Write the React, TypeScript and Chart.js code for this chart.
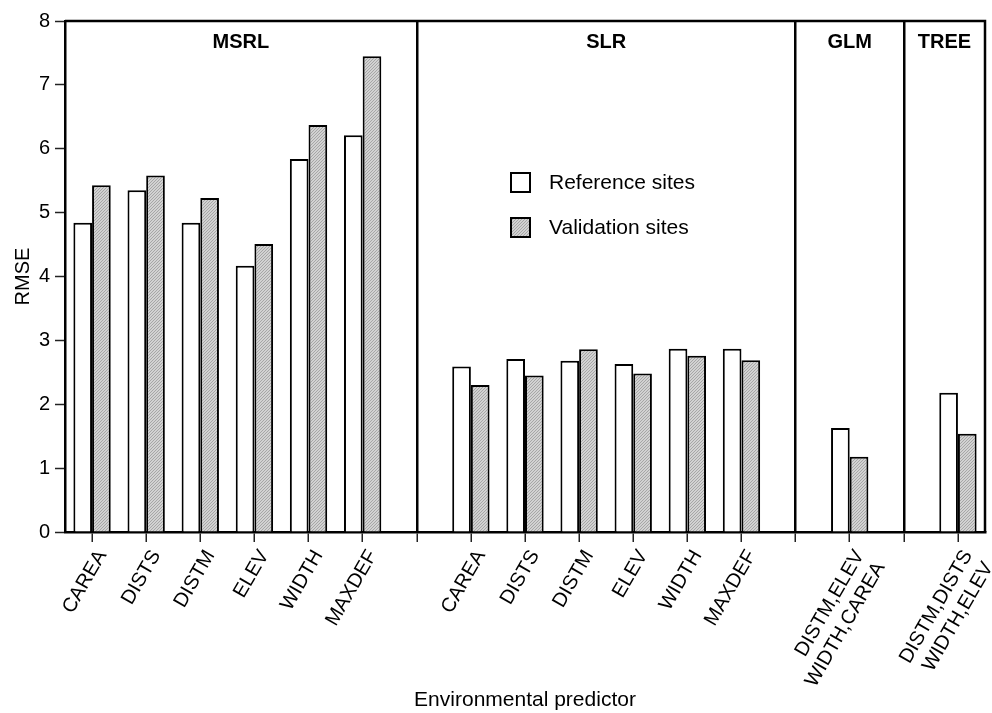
import React, { useEffect, useRef } from 'react';
import { Chart, registerables } from 'chart.js';

Chart.register(...registerables);

// Model groups and their predictors
const panelNames = ['MSRL', 'SLR', 'GLM', 'TREE'];
const msrlPredictors = ['CAREA', 'DISTS', 'DISTM', 'ELEV', 'WIDTH', 'MAXDEF'];
const slrPredictors = ['CAREA', 'DISTS', 'DISTM', 'ELEV', 'WIDTH', 'MAXDEF'];
const glmPredictors = [['DISTM,ELEV', 'WIDTH,CAREA']];
const treePredictors = [['DISTM,DISTS', 'WIDTH,ELEV']];

// RMSE at reference and validation sites
const msrlReference = [4.84, 5.35, 4.84, 4.17, 5.84, 6.21];
const msrlValidation = [5.43, 5.58, 5.23, 4.51, 6.37, 7.45];
const slrReference = [2.59, 2.71, 2.68, 2.63, 2.87, 2.87];
const slrValidation = [2.3, 2.45, 2.86, 2.48, 2.76, 2.69];
const glmReference = [1.63];
const glmValidation = [1.18];
const treeReference = [2.18];
const treeValidation = [1.54];

const seriesNames = ['Reference sites', 'Validation sites'];
const yMin = 0;
const yMax = 8;

const FONT = "'Liberation Sans', Arial, Helvetica, sans-serif";

type Panel = { name: string; labels: (string | string[])[]; ref: number[]; val: number[] };

const panels: Panel[] = [
  { name: panelNames[0], labels: msrlPredictors, ref: msrlReference, val: msrlValidation },
  { name: panelNames[1], labels: slrPredictors, ref: slrReference, val: slrValidation },
  { name: panelNames[2], labels: glmPredictors, ref: glmReference, val: glmValidation },
  { name: panelNames[3], labels: treePredictors, ref: treeReference, val: treeValidation },
];

// One category axis: predictors of each group, with an empty slot between groups
const labels: (string | string[])[] = [];
const refData: (number | null)[] = [];
const valData: (number | null)[] = [];
const dividerIndices: number[] = [];
panels.forEach((p, i) => {
  if (i > 0) {
    dividerIndices.push(labels.length);
    labels.push('');
    refData.push(null);
    valData.push(null);
  }
  p.labels.forEach((l, j) => {
    labels.push(l);
    refData.push(p.ref[j]);
    valData.push(p.val[j]);
  });
});

function makeHatch(): CanvasPattern | string {
  const tile = document.createElement('canvas');
  tile.width = 3;
  tile.height = 3;
  const c = tile.getContext('2d');
  if (!c) return '#c8c8c8';
  c.fillStyle = '#d2d2d2';
  c.fillRect(0, 0, 3, 3);
  c.fillStyle = '#a6a6a6';
  for (let i = 0; i < 3; i++) c.fillRect(2 - i, i, 1, 1);
  return c.createPattern(tile, 'repeat') || '#c8c8c8';
}

const panelPlugin = {
  id: 'panelDecor',
  afterDatasetsDraw(chart: any) {
    const { ctx, chartArea } = chart;
    const xs = chart.scales.x;
    const hatch = chart.data.datasets[1].backgroundColor;
    ctx.save();
    // frame: top and right edges
    ctx.strokeStyle = '#000';
    ctx.lineWidth = 2.5;
    ctx.beginPath();
    ctx.moveTo(chartArea.left, chartArea.top);
    ctx.lineTo(chartArea.right, chartArea.top);
    ctx.lineTo(chartArea.right, chartArea.bottom);
    ctx.stroke();

    // group titles centred in each panel
    ctx.fillStyle = '#000';
    ctx.font = `bold 20px ${FONT}`;
    ctx.textAlign = 'center';
    ctx.textBaseline = 'middle';
    panels.forEach((p, i) => {
      const l = i === 0 ? chartArea.left : xs.getPixelForTick(dividerIndices[i - 1]);
      const r = i === panels.length - 1 ? chartArea.right : xs.getPixelForTick(dividerIndices[i]);
      ctx.fillText(p.name, (l + r) / 2, chartArea.top + 21);
    });

    // legend
    const lx = chartArea.left + 446;
    const ly = chartArea.top + 152;
    const box = 19;
    const gap = 45;
    ctx.font = `21px ${FONT}`;
    ctx.textAlign = 'left';
    seriesNames.forEach((name, i) => {
      const y = ly + i * gap;
      ctx.fillStyle = i === 0 ? '#fff' : hatch;
      ctx.fillRect(lx, y, box, box);
      ctx.lineWidth = 2;
      ctx.strokeStyle = '#000';
      ctx.strokeRect(lx, y, box, box);
      ctx.fillStyle = '#000';
      ctx.fillText(name, lx + 38, y + box / 2 + 1);
    });
    ctx.restore();
  },
};

export default function App() {
  const canvasRef = useRef<HTMLCanvasElement | null>(null);

  useEffect(() => {
    const canvas = canvasRef.current;
    if (!canvas) return;
    const hatch = makeHatch();
    const chart = new Chart(canvas, {
      type: 'bar',
      data: {
        labels,
        datasets: [
          {
            label: seriesNames[0],
            data: refData,
            backgroundColor: '#ffffff',
            borderColor: '#000000',
            borderWidth: 2,
            categoryPercentage: 0.69,
            barPercentage: 1,
          },
          {
            label: seriesNames[1],
            data: valData,
            backgroundColor: hatch as any,
            borderColor: '#000000',
            borderWidth: 2,
            categoryPercentage: 0.69,
            barPercentage: 1,
          },
        ],
      },
      options: {
        responsive: false,
        animation: false,
        layout: { padding: { top: 21, right: 7, left: 0, bottom: 0 } },
        plugins: {
          legend: { display: false },
          tooltip: { enabled: false },
          title: { display: false },
        },
        scales: {
          x: {
            type: 'category',
            offset: true,
            ticks: {
              autoSkip: false,
              minRotation: 60,
              maxRotation: 60,
              color: '#000',
              padding: 4,
              labelOffset: 10,
              font: { family: FONT, size: 20 },
            },
            grid: {
              offset: false,
              drawOnChartArea: true,
              color: (c: any) => (dividerIndices.includes(c.index) ? '#000' : 'rgba(0,0,0,0)'),
              lineWidth: 2.5,
              tickLength: 10,
              tickColor: '#222',
              tickWidth: 1.5,
            },
            border: { display: true, color: '#000', width: 2.5 },
            title: {
              display: true,
              text: 'Environmental predictor',
              color: '#000',
              font: { family: FONT, size: 21 },
              padding: { top: 0, bottom: 0 },
            },
            afterFit: (s: any) => {
              s.height = 181;
              s.paddingLeft = 0;
              s.paddingRight = 0;
            },
          },
          y: {
            min: yMin,
            max: yMax,
            ticks: {
              stepSize: 1,
              color: '#000',
              padding: 5,
              font: { family: FONT, size: 20 },
            },
            grid: {
              drawOnChartArea: false,
              tickLength: 10,
              tickColor: '#222',
              tickWidth: 1.5,
            },
            border: { display: true, color: '#000', width: 2.5 },
            title: {
              display: true,
              text: 'RMSE',
              color: '#000',
              font: { family: FONT, size: 20 },
              padding: { top: 11, bottom: 0 },
            },
            afterFit: (s: any) => {
              s.width = 65;
            },
          },
        },
      },
      plugins: [panelPlugin],
    });
    return () => chart.destroy();
  }, []);

  return (
    <div style={{ position: 'fixed', left: 0, top: 0, width: 992, height: 713, background: '#fff' }}>
      <canvas ref={canvasRef} width={992} height={713} />
    </div>
  );
}
